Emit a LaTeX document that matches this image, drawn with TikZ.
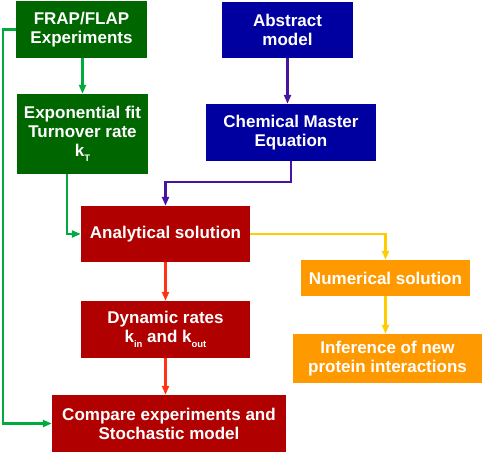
\documentclass[tikz,border=0pt]{standalone}
\usepackage{fontspec}
\setmainfont{Liberation Sans}
\usetikzlibrary{arrows.meta}
\definecolor{boxgreen}{RGB}{0,102,0}
\definecolor{arrgreen}{RGB}{0,170,60}
\definecolor{boxblue}{RGB}{0,0,160}
\definecolor{arrblue}{RGB}{70,20,160}
\definecolor{boxred}{RGB}{176,0,0}
\definecolor{arrred}{RGB}{255,50,20}
\definecolor{boxorange}{RGB}{255,153,0}
\definecolor{arryellow}{RGB}{255,204,0}
\newcommand{\sbs}[1]{\raisebox{-0.55ex}{\fontsize{9.5}{9.5}\selectfont #1}}
\tikzset{
  box/.style={rectangle, inner sep=0pt, align=center, text=white,
    font=\fontsize{17}{19}\selectfont\bfseries},
  conn/.style={line width=2.2pt, -{Triangle[length=9pt,width=7pt]}}
}
\begin{document}
\begin{tikzpicture}[x=1pt,y=-1pt]
\useasboundingbox (0,0) rectangle (484,454);
\node[box, fill=boxgreen, minimum width=131, minimum height=57] (frap) at (81.5,29.5) {FRAP/FLAP\\Experiments};
\node[box, fill=boxgreen, minimum width=131, minimum height=80] (expo) at (82.5,134) {Exponential fit\\Turnover rate\\k\sbs{T}};
\node[box, fill=boxblue, minimum width=131, minimum height=56] (abst) at (287.5,30) {Abstract\\model};
\node[box, fill=boxblue, minimum width=170, minimum height=57] (cme) at (291,132.5) {Chemical Master\\Equation};
\node[box, fill=boxred, minimum width=169, minimum height=56] (ana) at (165.5,234) {Analytical solution};
\node[box, fill=boxred, minimum width=169, minimum height=57] (dyn) at (165.5,329.5) {Dynamic rates\\k\sbs{in} and k\sbs{out}};
\node[box, fill=boxred, minimum width=234, minimum height=57] (cmp) at (169,423.5) {Compare experiments and\\Stochastic model};
\node[box, fill=boxorange, minimum width=169, minimum height=36] (num) at (385.5,278) {Numerical solution};
\node[box, fill=boxorange, minimum width=189, minimum height=49] (inf) at (387.5,358.5) {Inference of new\\protein interactions};
\coordinate (gl) at (3,0);
\coordinate (el) at (67,0);
\coordinate (bend) at (0,182);
% green
\draw[conn, arrgreen] (expo.north |- frap.south) -- (expo.north);
\draw[conn, arrgreen] (frap.west) -- (frap.west -| gl) |- (cmp.west);
\draw[conn, arrgreen] (el |- expo.south) |- (ana.west);
% blue
\draw[conn, arrblue] (abst.south) -- (abst.south |- cme.north);
\draw[conn, arrblue] (cme.south) -- (cme.south |- bend) -| (ana.north);
% red
\draw[conn, arrred] (ana.south) -- (dyn.north);
\draw[conn, arrred] (dyn.south) -- (dyn.south |- cmp.north);
% yellow
\draw[conn, arryellow] (ana.east) -| (num.north);
\draw[conn, arryellow] (num.south) -- (num.south |- inf.north);
\end{tikzpicture}
\end{document}
